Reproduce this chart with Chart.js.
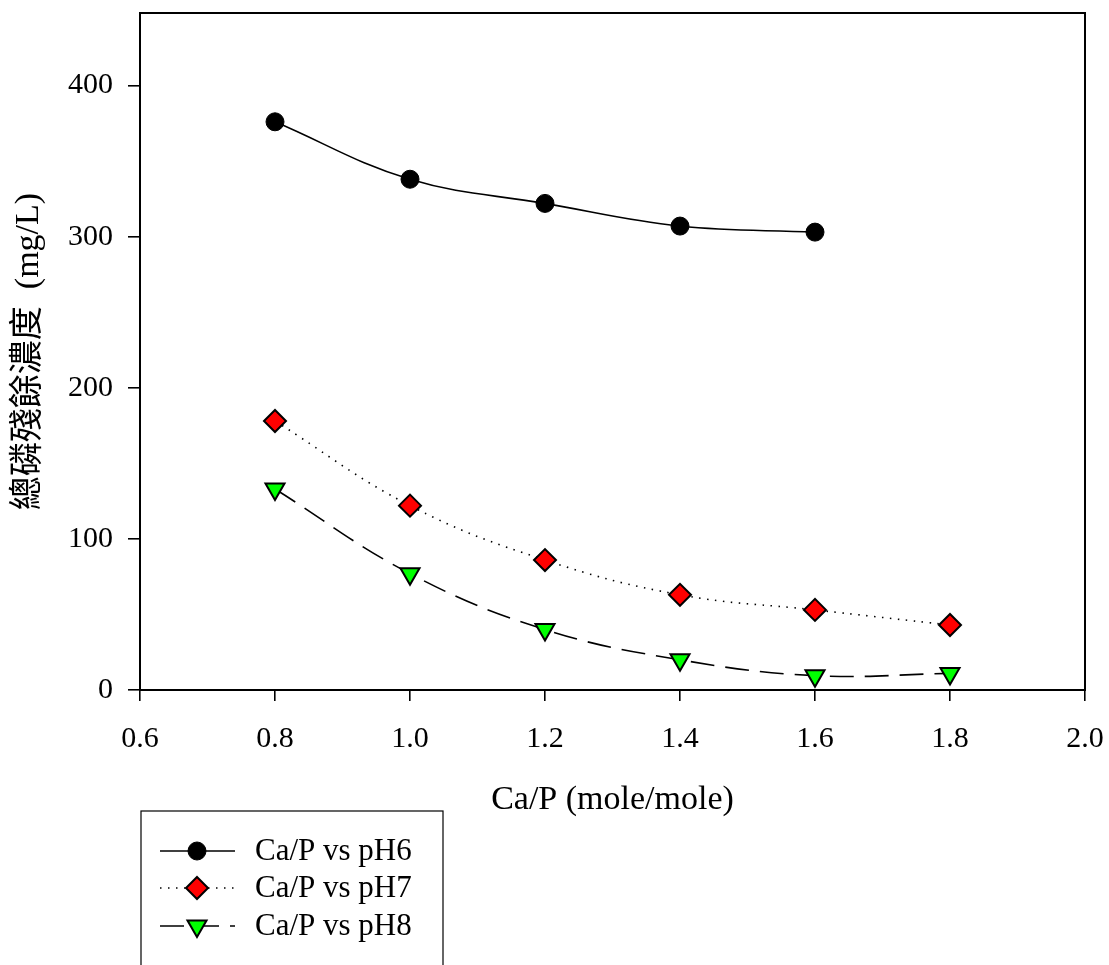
<!DOCTYPE html>
<html>
<head>
<meta charset="utf-8">
<script src="https://cdn.jsdelivr.net/npm/chart.js@4/dist/chart.umd.min.js"></script>
<style>
  html, body { margin: 0; padding: 0; background: #fff; }
  #wrap { width: 1109px; height: 965px; }
</style>
</head>
<body>
<div id="wrap"><canvas id="myChart" width="1109" height="965"></canvas></div>
<script>
//Chart data
var caP = [0.8, 1.0, 1.2, 1.4, 1.6, 1.8];
var pH6 = [376, 338, 322, 307, 303, null];
var pH7 = [178, 122, 86, 63, 53, 43];
var pH8 = [133, 77, 40, 20, 9.5, 11];
var seriesNames = ["Ca/P vs pH6", "Ca/P vs pH7", "Ca/P vs pH8"];
var xTicks = [0.6, 0.8, 1.0, 1.2, 1.4, 1.6, 1.8, 2.0];
var yTicks = [0, 100, 200, 300, 400];

var serif = "'Liberation Serif', 'Times New Roman', 'Noto Sans CJK TC', serif";

//turn x and y arrays into point objects
function toPoints(xs, ys) {
    var pts = [];
    for (var i = 0; i < xs.length; i++) {
        if (ys[i] !== null) pts.push({ x: xs[i], y: ys[i] });
    }
    return pts;
}

//marker shapes for the legend
function drawMarker(ctx, ds, x, y) {
    var r = ds.pointRadius;
    if (ds.pointStyle === "circle") {
        ctx.arc(x, y, r, 0, Math.PI * 2);
    } else if (ds.pointStyle === "rectRot") {
        ctx.moveTo(x, y - r); ctx.lineTo(x + r, y); ctx.lineTo(x, y + r); ctx.lineTo(x - r, y); ctx.closePath();
    } else {
        ctx.moveTo(x - r * 0.866, y - r * 0.5); ctx.lineTo(x + r * 0.866, y - r * 0.5); ctx.lineTo(x, y + r); ctx.closePath();
    }
}

//Frame around the plot area
var frame = {
    id: "frame",
    afterDraw: function (chart) {
        var a = chart.chartArea;
        var ctx = chart.ctx;
        ctx.save();
        ctx.strokeStyle = "#000";
        ctx.lineWidth = 2;
        ctx.strokeRect(a.left, a.top, a.right - a.left, a.bottom - a.top);
        ctx.restore();
    }
};

//Legend box drawn under the chart, like the original
var boxLegend = {
    id: "boxLegend",
    afterDraw: function (chart) {
        var ctx = chart.ctx;
        ctx.save();
        ctx.strokeStyle = "#000";
        ctx.lineWidth = 1.2;
        ctx.strokeRect(141, 811, 302, 170);
        var rows = [851, 888, 926];
        chart.data.datasets.forEach(function (ds, i) {
            var y = rows[i];
            ctx.strokeStyle = "#000";
            ctx.lineWidth = 1.5;
            ctx.setLineDash(ds.borderDash || []);
            ctx.beginPath();
            ctx.moveTo(160, y);
            ctx.lineTo(235, y);
            ctx.stroke();
            ctx.setLineDash([]);
            ctx.fillStyle = ds.pointBackgroundColor;
            ctx.lineWidth = ds.pointBorderWidth;
            ctx.beginPath();
            drawMarker(ctx, ds, 197, y);
            ctx.fill();
            ctx.stroke();
            ctx.fillStyle = "#000";
            ctx.font = "31px " + serif;
            ctx.textBaseline = "middle";
            ctx.fillText(ds.label, 255, y + 1);
        });
        ctx.restore();
    }
};

var infoChart = new Chart("myChart", {
    type: "line",
    data: {
        datasets: [{
            label: seriesNames[0],
            data: toPoints(caP, pH6),
            borderColor: "#000",
            borderWidth: 1.6,
            pointStyle: "circle",
            pointRadius: 9,
            pointBackgroundColor: "#000",
            pointBorderColor: "#000",
            pointBorderWidth: 1,
            tension: 0.4
        }, {
            label: seriesNames[1],
            data: toPoints(caP, pH7),
            borderColor: "#000",
            borderWidth: 1.6,
            borderDash: [1.5, 6.5],
            pointStyle: "rectRot",
            pointRadius: 11,
            pointBackgroundColor: "#ff0000",
            pointBorderColor: "#000",
            pointBorderWidth: 2,
            tension: 0.4
        }, {
            label: seriesNames[2],
            data: toPoints(caP, pH8),
            borderColor: "#000",
            borderWidth: 1.6,
            borderDash: [24, 11],
            pointStyle: "triangle",
            pointRotation: 180,
            pointRadius: 11,
            pointBackgroundColor: "#00ff00",
            pointBorderColor: "#000",
            pointBorderWidth: 2,
            tension: 0.4
        }]
    },
    options: {
        responsive: false,
        animation: false,
        layout: { padding: { top: 0, right: 24, left: 0, bottom: 0 } },
        plugins: {
            legend: { display: false },
            tooltip: { enabled: false }
        },
        scales: {
            x: {
                type: "linear",
                min: 0.6,
                max: 2.0,
                afterFit: function (s) { s.height = 275; s.paddingLeft = 0; s.paddingRight = 0; },
                afterBuildTicks: function (s) {
                    s.ticks = xTicks.map(function (v) { return { value: v }; });
                },
                ticks: {
                    color: "#000",
                    font: { family: serif, size: 30 },
                    padding: 20,
                    maxRotation: 0,
                    callback: function (v) { return Number(v).toFixed(1); }
                },
                grid: { display: true, drawOnChartArea: false, drawTicks: true, tickLength: 11, color: "#000", lineWidth: 1.6 },
                border: { display: true, color: "#000", width: 2 },
                title: {
                    display: true,
                    text: "Ca/P (mole/mole)",
                    color: "#000",
                    font: { family: serif, size: 34 },
                    padding: { top: 0, bottom: 145 }
                }
            },
            y: {
                min: 0,
                max: 448,
                afterFit: function (s) { s.width = 140; s.paddingTop = 0; s.paddingBottom = 0; },
                afterBuildTicks: function (s) {
                    s.ticks = yTicks.map(function (v) { return { value: v }; });
                },
                ticks: {
                    color: "#000",
                    font: { family: serif, size: 30 },
                    padding: 15
                },
                grid: { display: true, drawOnChartArea: false, drawTicks: true, tickLength: 12, color: "#000", lineWidth: 1.6 },
                border: { display: true, color: "#000", width: 2 },
                title: {
                    display: true,
                    text: "總磷殘餘濃度  (mg/L)",
                    color: "#000",
                    font: { family: serif, size: 34 },
                    padding: { top: 9, bottom: 0 }
                }
            }
        }
    },
    plugins: [frame, boxLegend]
});
</script>
</body>
</html>
